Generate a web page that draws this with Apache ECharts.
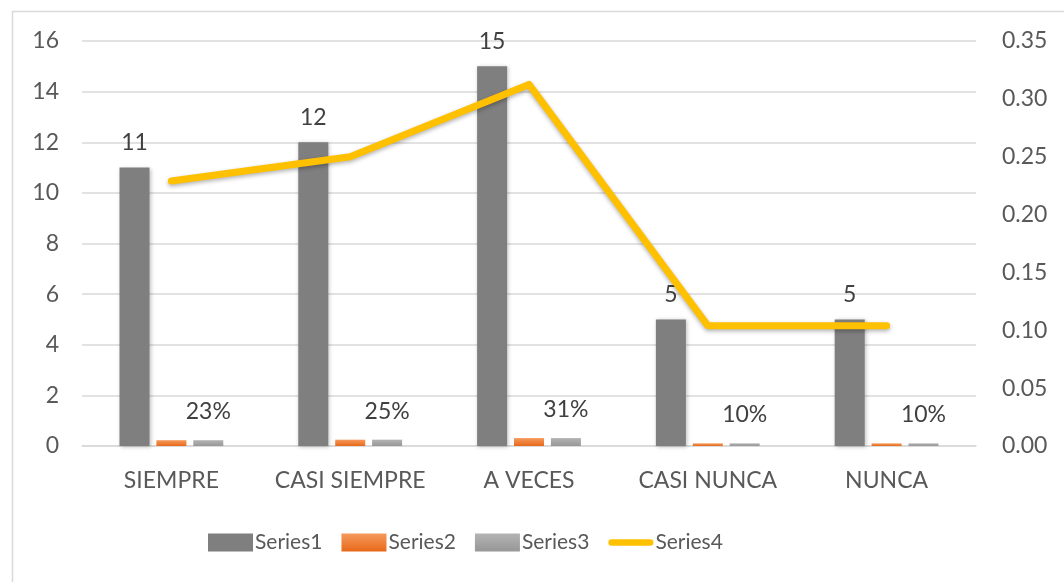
<!DOCTYPE html>
<html>
<head>
<meta charset="utf-8">
<script src="https://cdn.jsdelivr.net/npm/echarts@6/dist/echarts.min.js"></script>
<style>
html,body{margin:0;padding:0;background:#fff;}
#chart{width:1064px;height:582px;}
</style>
</head>
<body>
<div id="chart"></div>
<script>
const categories = ['SIEMPRE', 'CASI SIEMPRE', 'A VECES', 'CASI NUNCA', 'NUNCA'];
const series1 = [11, 12, 15, 5, 5];
const series2 = [0.229, 0.25, 0.3125, 0.104, 0.104];
const series3 = [0.229, 0.25, 0.3125, 0.104, 0.104];
const series4 = [0.229, 0.25, 0.3125, 0.104, 0.104];
const leftTicks = {min: 0, max: 16, interval: 2};
const rightTicks = {min: 0, max: 0.35, interval: 0.05};

const FONT = 'Lato';
const TXT = '#595959';
const FS = 23;

const chart = echarts.init(document.getElementById('chart'), null, {renderer: 'canvas'});
chart.setOption({
  animation: false,
  backgroundColor: '#fff',
  textStyle: {fontFamily: FONT},
  graphic: [{
    type: 'rect', left: 10, top: 9, silent: true,
    shape: {width: 1100, height: 600},
    style: {fill: 'none', stroke: '#d9d9d9', lineWidth: 1.5}
  }],
  grid: {left: 82, right: 88, top: 41, bottom: 136, containLabel: false},
  legend: {
    left: 203, top: 527,
    itemWidth: 45, itemHeight: 18, itemGap: 19,
    textStyle: {fontSize: 21, color: TXT, fontFamily: FONT, padding: [0, 0, 0, -3]},
    data: [
      {name: 'Series1', icon: 'rect'},
      {name: 'Series2', icon: 'rect'},
      {name: 'Series3', icon: 'rect'},
      {name: 'Series4', icon: 'path://M3.5,0 L45.5,0 A3.5,3.5 0 0 1 45.5,7 L3.5,7 A3.5,3.5 0 0 1 3.5,0 Z',
        itemStyle: {color: '#ffc000'}}
    ]
  },
  xAxis: {
    type: 'category', data: categories,
    axisLine: {show: true, lineStyle: {color: '#d9d9d9', width: 1.5}},
    axisTick: {show: false},
    axisLabel: {interval: 0, fontSize: FS, color: TXT, margin: 23, fontFamily: FONT}
  },
  yAxis: [{
    type: 'value', min: leftTicks.min, max: leftTicks.max, interval: leftTicks.interval,
    axisLine: {show: false}, axisTick: {show: false},
    axisLabel: {fontSize: FS, color: TXT, margin: 23, fontFamily: FONT},
    splitLine: {lineStyle: {color: '#d9d9d9', width: 1.5}}
  }, {
    type: 'value', min: rightTicks.min, max: rightTicks.max, interval: rightTicks.interval,
    axisLine: {show: false}, axisTick: {show: false},
    axisLabel: {fontSize: FS, color: TXT, margin: 26, fontFamily: FONT,
      formatter: v => v.toFixed(2)},
    splitLine: {show: false}
  }],
  series: [{
    name: 'Series1', type: 'bar', data: series1, barWidth: 30, barGap: '23%',
    itemStyle: {color: '#7f7f7f', shadowBlur: 4, shadowColor: 'rgba(0,0,0,0.25)', shadowOffsetX: 1, shadowOffsetY: 1},
    label: {show: true, position: 'top', distance: 13, fontSize: FS, color: '#404040', fontFamily: FONT}
  }, {
    name: 'Series2', type: 'bar', data: series2, barWidth: 30,
    itemStyle: {color: new echarts.graphic.LinearGradient(0, 0, 0, 1, [
      {offset: 0, color: '#f59a5c'}, {offset: 1, color: '#e8691a'}])}
  }, {
    name: 'Series3', type: 'bar', data: series3, barWidth: 30,
    itemStyle: {color: new echarts.graphic.LinearGradient(0, 0, 0, 1, [
      {offset: 0, color: '#b3b3b3'}, {offset: 1, color: '#979797'}])},
    label: {show: true, position: 'top', distance: 17, fontSize: FS, color: '#404040', fontFamily: FONT,
      formatter: p => Math.round(p.value * 100) + '%'}
  }, {
    name: 'Series4', type: 'line', yAxisIndex: 1, data: series4,
    symbol: 'none',
    lineStyle: {color: '#ffc000', width: 7, cap: 'round', join: 'round',
      shadowBlur: 4, shadowColor: 'rgba(0,0,0,0.3)', shadowOffsetY: 2},
    itemStyle: {color: '#ffc000'}
  }]
});
</script>
</body>
</html>
